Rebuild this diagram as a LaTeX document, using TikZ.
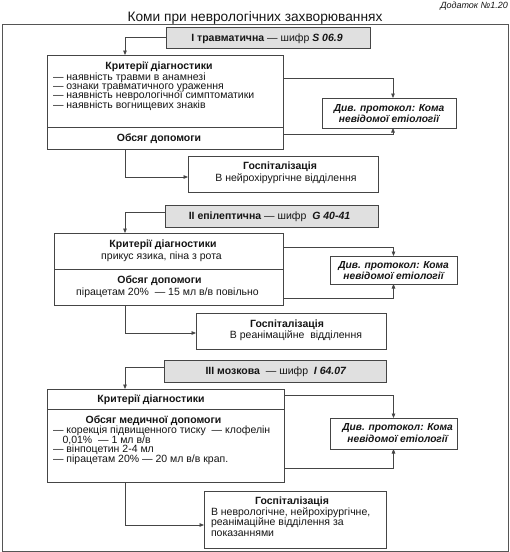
\documentclass[tikz,border=0pt]{standalone}
\usepackage{fontspec}
\setmainfont{Liberation Sans}
\usetikzlibrary{arrows.meta}
\definecolor{linec}{HTML}{454545}
\definecolor{framec}{HTML}{555555}
\definecolor{hdrfill}{HTML}{E0E0E0}
\definecolor{txtc}{HTML}{151515}
\newcommand{\leftlines}[2][9.4pt]{\vtop{\baselineskip=#1\lineskiplimit=-20pt\lineskip=0pt\halign{##\hfil\cr#2\crcr}}}
\newcommand{\centerlines}[2][9.4pt]{\vtop{\baselineskip=#1\lineskiplimit=-20pt\lineskip=0pt\halign{\hfil##\hfil\cr#2\crcr}}}
\begin{document}
\begin{tikzpicture}[x=1pt,y=-1pt,
  box/.style={draw=linec, line width=0.8pt, inner sep=0pt, outer sep=0pt, anchor=north west, fill=white},
  hdr/.style={box, fill=hdrfill},
  txt/.style={inner sep=0pt, outer sep=0pt, text=txtc, font=\fontsize{10.5}{9.4}\selectfont},
  btxt/.style={txt, font=\fontsize{10.5}{9.4}\selectfont\bfseries},
  dtxt/.style={txt, font=\fontsize{10.2}{9.4}\selectfont\bfseries\itshape},
  conn/.style={draw=linec, line width=0.8pt, -{Triangle[length=4.5pt,width=3.6pt]}}]
\useasboundingbox (0,0) rectangle (510,552);
\draw[framec, line width=1pt] (2,24) rectangle (508,551);
\node[txt, anchor=base, font=\fontsize{13.7}{15}\selectfont] (title) at (255,21) {Коми при неврологічних захворюваннях};
\node[txt, anchor=base east, font=\fontsize{9}{10}\selectfont\itshape] (app) at (508,8) {Додаток №1.20};

% ---- block 1
\node[hdr, minimum width=204pt, minimum height=21pt] (h1) at (166,27) {};
\node[txt, anchor=base] (h1t) at (267,41) {\textbf{I травматична} — шифр \textbf{\textit{S 06.9}}};
\node[box, minimum width=236pt, minimum height=72pt] (crit1) at (47,55) {};
\node[box, minimum width=236pt, minimum height=22pt] (obs1) at (47,127) {};
\node[btxt, anchor=base] (crit1t) at (159,69.5) {Критерії діагностики};
\node[txt, anchor=base west] (crit1l) at (53,80.5) {\leftlines[9.2pt]{— наявність травми в анамнезі\cr — ознаки травматичного ураження\cr — наявність неврологічної симптоматики\cr — наявність вогнищевих знаків}};
\node[btxt, anchor=base] (obs1t) at (159,141.5) {Обсяг допомоги};
\node[box, minimum width=134pt, minimum height=30pt] (div1) at (322,98) {};
\node[dtxt, anchor=base] (div1t) at (389,111) {\centerlines[11pt]{Див. протокол: Кома\cr невідомої етіології}};
\node[box, minimum width=190pt, minimum height=36pt] (hosp1) at (188,156) {};
\node[btxt, anchor=base] (hosp1t) at (280,169) {Госпіталізація};
\node[txt, anchor=base] (hosp1l) at (286,181) {В нейрохірургічне відділення};
\draw[conn] (h1.west) -| ([xshift=-40pt]crit1.north);
\draw[conn] ([yshift=-23pt]crit1.north east) -| ([xshift=4pt]div1.north);
\draw[conn] ([yshift=4pt]obs1.east) -| ([xshift=4pt]div1.south);
\draw[conn] ([xshift=-40pt]obs1.south) |- ([yshift=-3pt]hosp1.west);

% ---- block 2
\node[hdr, minimum width=213pt, minimum height=22pt] (h2) at (165,205) {};
\node[txt, anchor=base] (h2t) at (269.5,219.5) {\textbf{II епілептична} — шифр\ \ \textbf{\textit{G 40-41}}};
\node[box, minimum width=229pt, minimum height=36pt] (crit2) at (54,233) {};
\node[box, minimum width=229pt, minimum height=36pt] (obs2) at (54,269) {};
\node[btxt, anchor=base] (crit2t) at (163,247.5) {Критерії діагностики};
\node[txt, anchor=base] (crit2l) at (161.5,259) {прикус язика, піна з рота};
\node[btxt, anchor=base] (obs2t) at (159.5,283.5) {Обсяг допомоги};
\node[txt, anchor=base] (obs2l) at (167.5,295) {пірацетам 20\%\ \ — 15 мл в/в повільно};
\node[box, minimum width=127pt, minimum height=28pt] (div2) at (330,256) {};
\node[dtxt, anchor=base] (div2t) at (393.5,268.5) {\centerlines[10.5pt]{Див. протокол: Кома\cr невідомої етіології}};
\node[box, minimum width=190pt, minimum height=36pt] (hosp2) at (196,313) {};
\node[btxt, anchor=base] (hosp2t) at (287,327.5) {Госпіталізація};
\node[txt, anchor=base] (hosp2l) at (296,338) {В реанімаційне\ \ відділення};
\draw[conn] ([yshift=4pt]h2.west) -| ([xshift=-43.5pt]crit2.north);
\draw[conn] ([yshift=4pt]crit2.east) -| (div2.north);
\draw[conn] ([yshift=-11pt]obs2.east) -| (div2.south);
\draw[conn] ([xshift=-43.5pt]obs2.south) |- ([yshift=-2pt]hosp2.west);

% ---- block 3
\node[hdr, minimum width=222pt, minimum height=22pt] (h3) at (164,360) {};
\node[txt, anchor=base] (h3t) at (276,374.5) {\textbf{III мозкова}\ \ — шифр\ \ \textbf{\textit{I 64.07}}};
\node[box, minimum width=237pt, minimum height=20pt] (crit3) at (47,389) {};
\node[box, minimum width=237pt, minimum height=73pt] (obs3) at (47,409) {};
\node[btxt, anchor=base] (crit3t) at (151,402.5) {Критерії діагностики};
\node[btxt, anchor=base] (obs3t) at (153.5,423) {Обсяг медичної допомоги};
\node[txt, anchor=base west] (obs3l) at (53,433.5) {\leftlines[9.6pt]{— корекція підвищенного тиску\ \ — клофелін\cr \kern9.5pt 0,01\%\ \ — 1 мл в/в\cr — вінпоцетин 2-4 мл\cr — пірацетам 20\% — 20 мл в/в крап.}};
\node[box, minimum width=127pt, minimum height=31pt] (div3) at (330,418) {};
\node[dtxt, anchor=base] (div3t) at (397.5,430) {\centerlines[12pt]{Див. протокол: Кома\cr невідомої етіології}};
\node[box, minimum width=182pt, minimum height=57pt] (hosp3) at (204,491) {};
\node[btxt, anchor=base] (hosp3t) at (292,504) {Госпіталізація};
\node[txt, anchor=base west] (hosp3l) at (211,515) {\leftlines[10.5pt]{В неврологічне, нейрохірургічне,\cr реанімаційне відділення за\cr показаннями}};
\draw[conn] ([yshift=4pt]h3.west) -| ([xshift=-40.5pt]crit3.north);
\draw[conn] ([yshift=4pt]crit3.east) -| (div3.north);
\draw[conn] ([yshift=-22.5pt]obs3.east) -| (div3.south);
\draw[conn] ([xshift=-40.5pt]obs3.south) |- ([yshift=-5.5pt]hosp3.west);
\end{tikzpicture}
\end{document}
